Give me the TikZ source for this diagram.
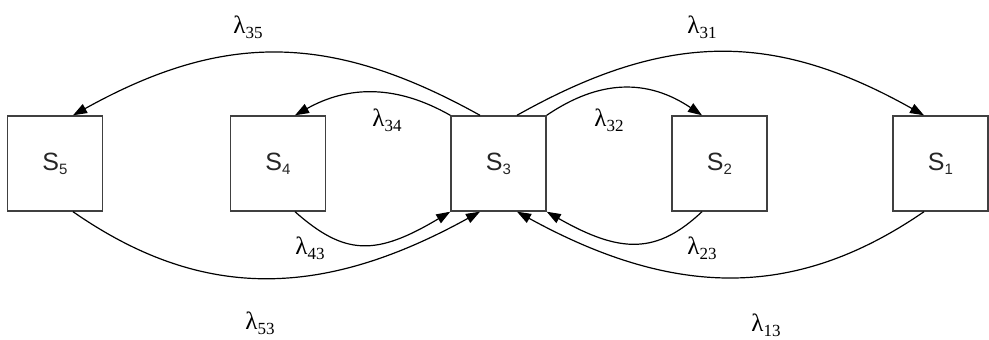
\documentclass[tikz,border=0pt]{standalone}
\usepackage{fontspec}
\setmainfont{Liberation Sans}
\newfontfamily\lamfont{Liberation Serif}
\usetikzlibrary{arrows.meta}
\newcommand{\lam}[1]{{\lamfont\fontsize{25}{27}\selectfont λ\raisebox{-5pt}{\fontsize{17}{17}\selectfont #1}}}
\newcommand{\st}[1]{{\fontsize{25}{27}\selectfont S\raisebox{-4pt}{\fontsize{15}{15}\selectfont #1}}}
\begin{document}
\begin{tikzpicture}[x=1pt,y=-1pt,
  state/.style={draw=black!75, line width=1.4pt, minimum size=95pt, inner sep=0pt, text=black!85},
  flow/.style={line width=1.2pt, -{Triangle[length=14pt,width=10pt]}}]
\useasboundingbox (0,0) rectangle (989,340);
\node[state] (s5) at (55,163.5) {\st{5}};
\node[state] (s4) at (278,163.5) {\st{4}};
\node[state] (s3) at (498.5,163.5) {\st{3}};
\node[state] (s2) at (719.5,163.5) {\st{2}};
\node[state] (s1) at (940.5,163.5) {\st{1}};

\draw[flow] ([xshift=-18.5pt]s3.north) .. controls (330,32) and (223,32) .. ([xshift=18pt]s5.north);
\draw[flow] (s3.north west) .. controls (397,85) and (349,85) .. ([xshift=17pt]s4.north);
\draw[flow] ([xshift=18.5pt]s3.north) .. controls (667,31) and (774,31) .. ([xshift=-16.5pt]s1.north);
\draw[flow] (s3.north east) .. controls (600,79) and (648,79) .. ([xshift=-17.5pt]s2.north);

\draw[flow] ([xshift=17pt]s4.south) .. controls (345,256) and (376,256) .. (s3.south west);
\draw[flow] ([xshift=18pt]s5.south) .. controls (200,300) and (320,300) .. ([xshift=-18.5pt]s3.south);
\draw[flow] ([xshift=-17.5pt]s2.south) .. controls (657,254) and (621,254) .. (s3.south east);
\draw[flow] ([xshift=-16.5pt]s1.south) .. controls (797,299) and (676,299) .. ([xshift=18.5pt]s3.south);

\node (l35) at (248,27) {\lam{35}};
\node (l34) at (387,120) {\lam{34}};
\node (l31) at (702,27) {\lam{31}};
\node (l32) at (609,120) {\lam{32}};
\node (l43) at (310,248) {\lam{43}};
\node (l53) at (260,323) {\lam{53}};
\node (l23) at (702,248) {\lam{23}};
\node (l13) at (766,325) {\lam{13}};
\end{tikzpicture}
\end{document}
